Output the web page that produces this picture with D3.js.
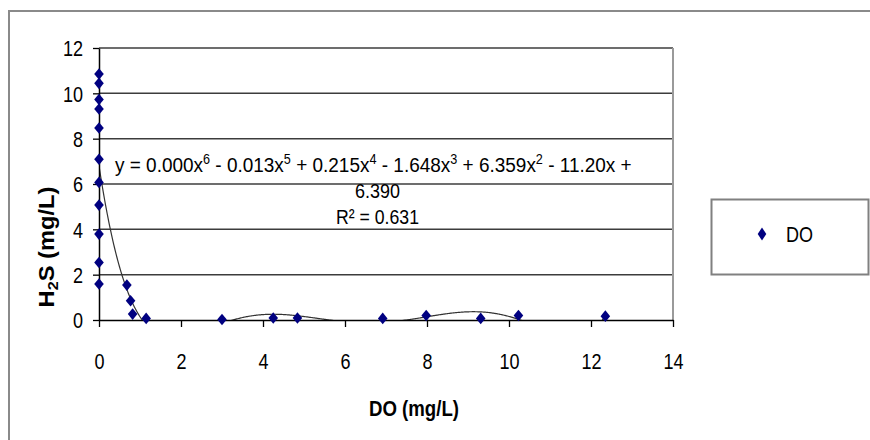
<!DOCTYPE html>
<html>
<head>
<meta charset="utf-8">
<script src="https://cdn.jsdelivr.net/npm/d3@7/dist/d3.min.js"></script>
<style>
  html, body { margin: 0; padding: 0; background: #fff; }
  svg { display: block; }
  text { font-family: "Liberation Sans", Arial, sans-serif; fill: #000; }
</style>
</head>
<body>
<svg id="chart" width="870" height="440"></svg>
<script>
// ---- data ----
const doValues  = [0, 0, 0, 0, 0, 0, 0, 0, 0, 0, 0,
                   0.68, 0.77, 0.82, 1.15, 3.0, 4.25, 4.84, 6.92, 7.98, 9.31, 10.23, 12.35];
const h2sValues = [10.85, 10.44, 9.73, 9.31, 8.47, 7.09, 6.07, 5.07, 3.79, 2.54, 1.59,
                   1.54, 0.85, 0.26, 0.07, 0.02, 0.09, 0.09, 0.07, 0.20, 0.07, 0.20, 0.17];
const xTicks = [0, 2, 4, 6, 8, 10, 12, 14];
const yTicks = [0, 2, 4, 6, 8, 10, 12];
const seriesName = "DO";
const xTitle = "DO (mg/L)";
const equationLine1 = [["y = 0.000x", "6"], [" - 0.013x", "5"], [" + 0.215x", "4"],
                       [" - 1.648x", "3"], [" + 6.359x", "2"], [" - 11.20x +", ""]];
const equationLine2 = "6.390";
const equationLine3 = "R² = 0.631";

// ---- layout ----
const svg = d3.select("#chart");
const squeeze = 0.82;
const L = 99, R = 673, T = 48, B = 320;
const x = d3.scaleLinear().domain([0, 14]).range([L, R]);
const y = d3.scaleLinear().domain([0, 12]).range([B, T]);

svg.append("rect").attr("width", 870).attr("height", 440).attr("fill", "#fff");
// outer chart border
svg.append("rect").attr("x", 9).attr("y", 11).attr("width", 920).attr("height", 520)
  .attr("fill", "none").attr("stroke", "#8a8a8a").attr("stroke-width", 2);

// gridlines
svg.append("g").selectAll("line").data(yTicks.filter(d => d > 0)).join("line")
  .attr("x1", L).attr("x2", R).attr("y1", d => y(d)).attr("y2", d => y(d))
  .attr("stroke", "#3c3c3c").attr("stroke-width", 1.5);
// plot area right border
svg.append("line").attr("x1", R).attr("x2", R).attr("y1", T).attr("y2", B)
  .attr("stroke", "#9a9a9a").attr("stroke-width", 2);

// ---- polynomial trendline (least squares, degree 6, like the spreadsheet) ----
function polyFit(xs, ys, deg) {
  const n = deg + 1, s = 10;
  const A = Array.from({length: n}, () => new Array(n + 1).fill(0));
  xs.forEach((xv, k) => {
    const t = xv / s;
    const p = [];
    for (let i = 0; i < n; i++) p.push(Math.pow(t, i));
    for (let i = 0; i < n; i++) {
      for (let j = 0; j < n; j++) A[i][j] += p[i] * p[j];
      A[i][n] += p[i] * ys[k];
    }
  });
  for (let c = 0; c < n; c++) {
    let piv = c;
    for (let r = c + 1; r < n; r++) if (Math.abs(A[r][c]) > Math.abs(A[piv][c])) piv = r;
    [A[c], A[piv]] = [A[piv], A[c]];
    for (let r = 0; r < n; r++) {
      if (r === c) continue;
      const f = A[r][c] / A[c][c];
      for (let k = c; k <= n; k++) A[r][k] -= f * A[c][k];
    }
  }
  const coef = A.map((row, i) => row[n] / row[i]);
  return xv => coef.reduce((acc, c, i) => acc + c * Math.pow(xv / s, i), 0);
}
const fit = polyFit(doValues, h2sValues, 6);
const xMax = d3.max(doValues);
const curve = d3.range(0, xMax + 1e-9, 0.02).map(v => [v, fit(v)]);

svg.append("clipPath").attr("id", "plotclip").append("rect")
  .attr("x", L).attr("y", T).attr("width", R - L).attr("height", B - T);
svg.append("path").datum(curve)
  .attr("clip-path", "url(#plotclip)")
  .attr("fill", "none").attr("stroke", "#333").attr("stroke-width", 1.2)
  .attr("d", d3.line().x(d => x(d[0])).y(d => y(Math.max(d[1], -0.2))));

// ---- axes ----
const xAxis = svg.append("g").attr("transform", `translate(0,${B})`)
  .call(d3.axisBottom(x).tickValues(xTicks).tickSize(7).tickSizeOuter(0).tickFormat(d3.format("d")));
xAxis.select(".domain").attr("stroke", "#000").attr("stroke-width", 1.5);
xAxis.selectAll(".tick line").attr("stroke", "#000").attr("stroke-width", 1.3);
xAxis.selectAll(".tick text").attr("y", 49).attr("dy", 0).attr("font-size", 22)
  .attr("font-family", "Liberation Sans, Arial, sans-serif")
  .attr("transform", `scale(${squeeze},1)`);

const yAxis = svg.append("g").attr("transform", `translate(${L},0)`)
  .call(d3.axisLeft(y).tickValues(yTicks).tickSize(6).tickSizeOuter(0).tickFormat(d3.format("d")));
yAxis.select(".domain").attr("stroke", "#000").attr("stroke-width", 1.5);
yAxis.selectAll(".tick line").attr("stroke", "#000").attr("stroke-width", 1.3);
yAxis.selectAll(".tick text").attr("x", -16 / squeeze).attr("dy", "0.36em").attr("font-size", 22)
  .attr("font-family", "Liberation Sans, Arial, sans-serif")
  .attr("transform", `scale(${squeeze},1)`);

// ---- markers ----
const diamond = (w, h) => `M0,${-h}L${w},0L0,${h}L${-w},0Z`;
svg.append("g").selectAll("path").data(doValues.map((d, i) => [d, h2sValues[i]])).join("path")
  .attr("transform", d => `translate(${x(d[0])},${y(d[1])})`)
  .attr("d", diamond(4.8, 5.8)).attr("fill", "#000080");

// ---- helper for condensed text ----
function fitWidth(sel, width) {
  const w = sel.node().getComputedTextLength();
  if (w > 0) sel.attr("transform", `scale(${width / w},1)`);
}

// equation
const eqG = svg.append("g").attr("transform", "translate(115,171.5)");
const eq1 = eqG.append("text").attr("font-size", 21);
let raised = false;
equationLine1.forEach(([base, sup]) => {
  eq1.append("tspan").attr("dy", raised ? 8 : 0).text(base);
  raised = false;
  if (sup) { eq1.append("tspan").attr("font-size", 14).attr("dy", -8).text(sup); raised = true; }
});
fitWidth(eq1, 517);

const eq2 = svg.append("g").attr("transform", "translate(377.5,197.5)")
  .append("text").attr("font-size", 21).attr("text-anchor", "middle").text(equationLine2);
fitWidth(eq2, 45);
const eq3 = svg.append("g").attr("transform", "translate(377.5,223.5)")
  .append("text").attr("font-size", 21).attr("text-anchor", "middle").text(equationLine3);
fitWidth(eq3, 83);

// axis titles
const xt = svg.append("g").attr("transform", "translate(414,416)")
  .append("text").attr("font-size", 22).attr("font-weight", "bold")
  .attr("text-anchor", "middle").text(xTitle);
fitWidth(xt, 90);

const yt = svg.append("g").attr("transform", "translate(54,247) rotate(-90)")
  .append("text").attr("font-size", 22).attr("font-weight", "bold").attr("text-anchor", "middle");
yt.append("tspan").text("H");
yt.append("tspan").attr("font-size", 15).attr("dy", 4).text("2");
yt.append("tspan").attr("dy", -4).text("S (mg/L)");
fitWidth(yt, 121);

// ---- legend ----
svg.append("rect").attr("x", 711.5).attr("y", 199.5).attr("width", 157).attr("height", 75)
  .attr("fill", "#fff").attr("stroke", "#808080").attr("stroke-width", 2);
svg.append("path").attr("transform", "translate(762,234)")
  .attr("d", diamond(4.3, 6.5)).attr("fill", "#000080");
svg.append("g").attr("transform", "translate(786,242)")
  .append("text").attr("font-size", 22).text(seriesName)
  .attr("transform", `scale(${squeeze},1)`);
</script>
</body>
</html>
